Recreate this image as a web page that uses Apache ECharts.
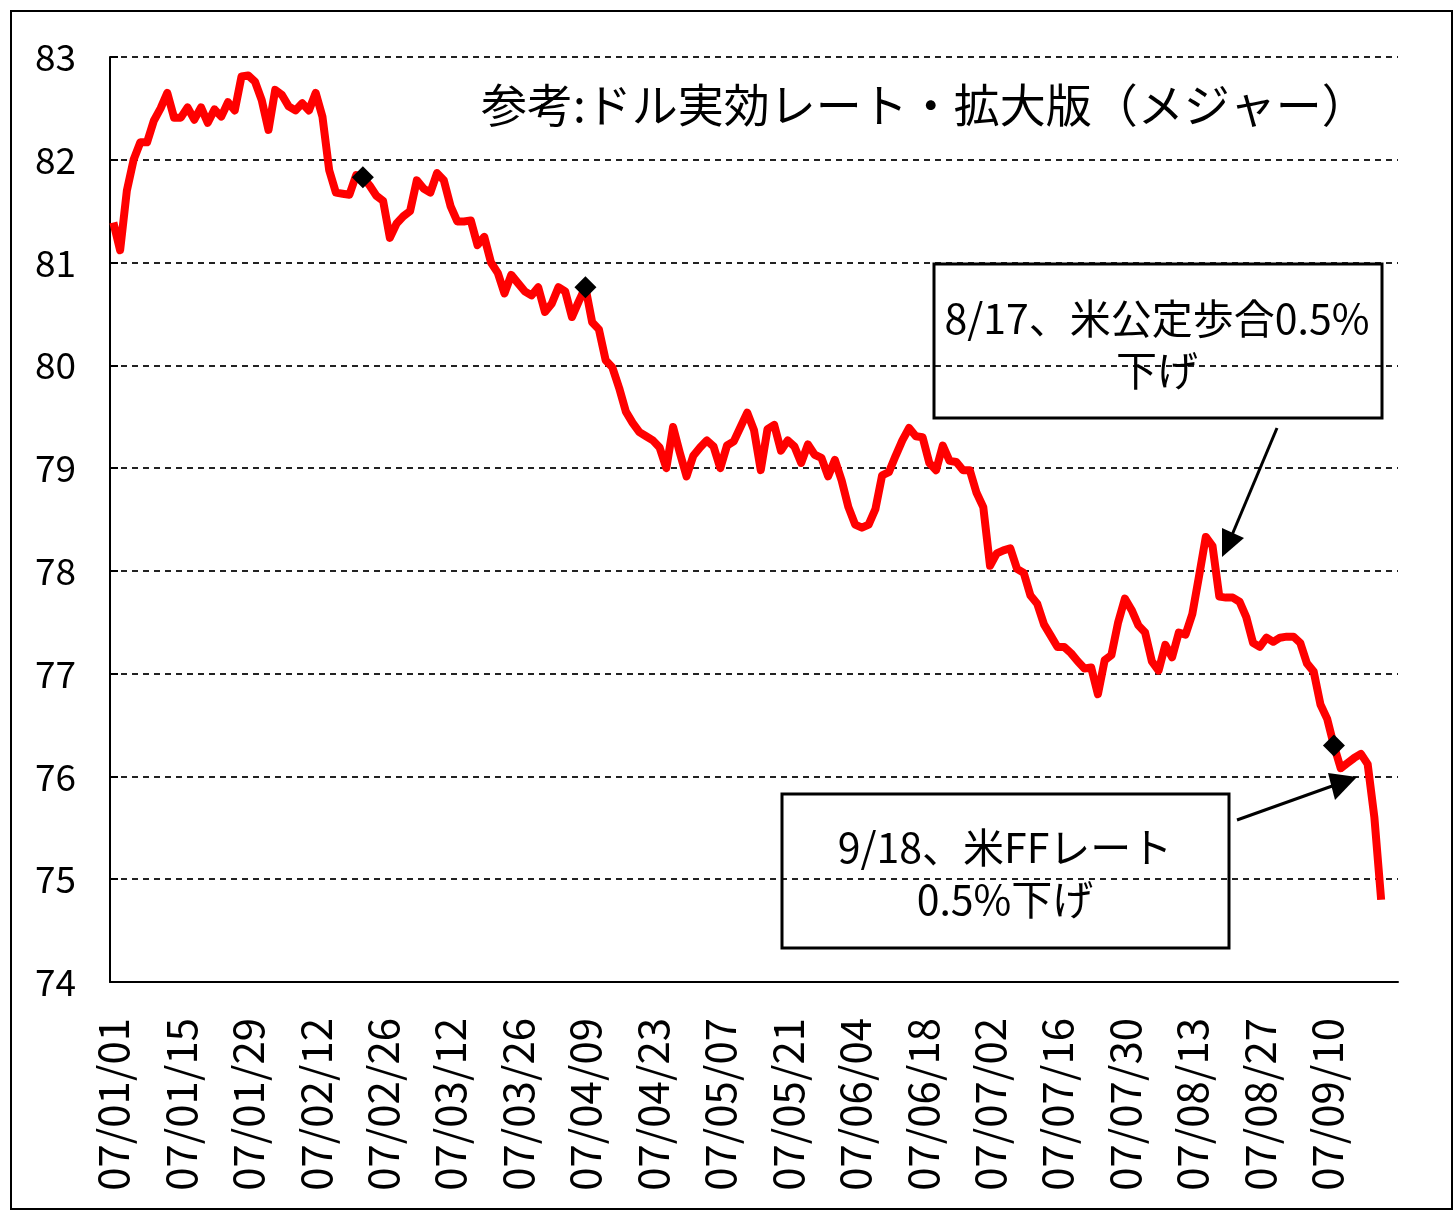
<!DOCTYPE html>
<html>
<head>
<meta charset="utf-8">
<script src="https://cdn.jsdelivr.net/npm/echarts@6/dist/echarts.min.js"></script>
<style>
  html, body { margin: 0; padding: 0; background: #fff; }
  #main { width: 1455px; height: 1211px; }
</style>
</head>
<body>
<div id="main"></div>
<script>
// ドル実効レート（拡大版・メジャー）日次
const rate = [
  81.39, 81.12, 81.70, 82.00, 82.17, 82.17, 82.38, 82.50, 82.65, 82.41,
  82.41, 82.51, 82.39, 82.51, 82.36, 82.49, 82.42, 82.56, 82.48, 82.81,
  82.82, 82.76, 82.58, 82.29, 82.68, 82.63, 82.52, 82.48, 82.55, 82.48,
  82.65, 82.42, 81.90, 81.68, 81.67, 81.66, 81.85, 81.83, 81.75, 81.65,
  81.60, 81.24, 81.38, 81.45, 81.50, 81.80, 81.72, 81.68, 81.87, 81.80,
  81.55, 81.40, 81.40, 81.41, 81.17, 81.25, 81.00, 80.90, 80.70, 80.88,
  80.80, 80.72, 80.68, 80.76, 80.52, 80.60, 80.76, 80.72, 80.47, 80.62,
  80.76, 80.42, 80.35, 80.05, 79.98, 79.78, 79.55, 79.44, 79.35, 79.31,
  79.27, 79.20, 79.00, 79.40, 79.15, 78.92, 79.12, 79.20, 79.27, 79.21,
  79.00, 79.22, 79.26, 79.40, 79.54, 79.37, 78.98, 79.38, 79.42, 79.17,
  79.27, 79.21, 79.05, 79.23, 79.13, 79.10, 78.92, 79.08, 78.88, 78.62,
  78.45, 78.42, 78.45, 78.60, 78.93, 78.96, 79.12, 79.27, 79.39, 79.31,
  79.30, 79.05, 78.98, 79.22, 79.07, 79.06, 78.98, 78.98, 78.76, 78.62,
  78.05, 78.17, 78.20, 78.22, 78.02, 77.98, 77.76, 77.68, 77.48, 77.37,
  77.26, 77.26, 77.20, 77.12, 77.05, 77.06, 76.80, 77.13, 77.18, 77.50,
  77.73, 77.62, 77.47, 77.40, 77.12, 77.03, 77.28, 77.16, 77.40, 77.38,
  77.58, 77.95, 78.33, 78.24, 77.75, 77.74, 77.74, 77.70, 77.55, 77.30,
  77.26, 77.35, 77.31, 77.35, 77.36, 77.36, 77.30, 77.10, 77.02, 76.70,
  76.56, 76.30, 76.08, 76.13, 76.18, 76.22, 76.12, 75.60, 74.80
];

// ◆印をつけた日（カテゴリ番号）
const markerDays = [37, 70, 181];

// 軸の目盛り
const yMin = 74;
const yMax = 83;
const yStep = 1;

// 営業日（平日）の日付 07/01/01 から 191 日分
const dayCount = 191;
const days = [];
(function () {
  const d = new Date(2007, 0, 1);
  const p = n => (n < 10 ? '0' : '') + n;
  while (days.length < dayCount) {
    const w = d.getDay();
    if (w !== 0 && w !== 6) {
      days.push(p(d.getFullYear() % 100) + '/' + p(d.getMonth() + 1) + '/' + p(d.getDate()));
    }
    d.setDate(d.getDate() + 1);
  }
})();

const FONT = '"Noto Sans CJK JP", "Noto Sans", sans-serif';

const chart = echarts.init(document.getElementById('main'), null, { renderer: 'canvas' });

const option = {
  backgroundColor: '#ffffff',
  animation: false,
  title: {
    text: '参考:ドル実効レート・拡大版（メジャー）',
    left: 476,
    top: 77,
    textStyle: {
      fontFamily: FONT,
      fontSize: 46,
      fontWeight: 'normal',
      color: '#000'
    }
  },
  grid: {
    left: 110,
    right: 57,
    top: 57,
    bottom: 229,
    containLabel: false
  },
  xAxis: {
    type: 'category',
    data: days,
    boundaryGap: true,
    axisLine: { show: true, lineStyle: { color: '#000', width: 2 } },
    axisTick: { show: false },
    axisLabel: {
      rotate: 90,
      margin: 36,
      interval: (i) => i % 10 === 0 && i < 190,
      fontFamily: FONT,
      fontSize: 42,
      color: '#000'
    },
    splitLine: { show: false }
  },
  yAxis: {
    type: 'value',
    min: yMin,
    max: yMax,
    interval: yStep,
    axisLine: { show: true, lineStyle: { color: '#000', width: 2 } },
    axisTick: { show: true, inside: true, length: 8, lineStyle: { color: '#000', width: 2 } },
    axisLabel: {
      margin: 34,
      fontFamily: FONT,
      fontSize: 37,
      color: '#000'
    },
    splitLine: {
      show: true,
      lineStyle: { color: '#222', width: 2, type: [6, 5] }
    }
  },
  series: [
    {
      name: 'ドル実効レート',
      type: 'line',
      data: rate,
      showSymbol: false,
      symbol: 'none',
      lineStyle: { color: '#ff0000', width: 8, join: 'round' },
      z: 3
    },
    {
      name: 'marker',
      type: 'scatter',
      data: markerDays.map(i => [i, rate[i]]),
      symbol: 'diamond',
      symbolSize: 22,
      itemStyle: { color: '#000', opacity: 1 },
      z: 4
    }
  ],
  graphic: [
    // 外枠
    {
      type: 'rect',
      shape: { x: 11, y: 11, width: 1441, height: 1198 },
      style: { fill: null, stroke: '#000', lineWidth: 2 },
      silent: true
    },
    // 注記 8/17
    {
      type: 'rect',
      shape: { x: 934, y: 264, width: 448, height: 154 },
      style: { fill: null, stroke: '#000', lineWidth: 3 },
      z: 10
    },
    {
      type: 'text',
      x: 1157, y: 344,
      style: {
        text: '8/17、米公定歩合0.5%\n下げ',
        fontFamily: FONT, fontSize: 41, lineHeight: 52,
        fill: '#000', align: 'center', verticalAlign: 'middle'
      },
      z: 10
    },
    {
      type: 'line',
      shape: { x1: 1277, y1: 428, x2: 1232, y2: 535 },
      style: { stroke: '#000', lineWidth: 3 },
      z: 10
    },
    {
      type: 'polygon',
      shape: { points: [[1222, 557], [1222, 528], [1244, 538]] },
      style: { fill: '#000' },
      z: 10
    },
    // 注記 9/18
    {
      type: 'rect',
      shape: { x: 782, y: 794, width: 447, height: 154 },
      style: { fill: null, stroke: '#000', lineWidth: 3 },
      z: 10
    },
    {
      type: 'text',
      x: 1005, y: 873,
      style: {
        text: '9/18、米FFレート\n0.5%下げ',
        fontFamily: FONT, fontSize: 41, lineHeight: 52,
        fill: '#000', align: 'center', verticalAlign: 'middle'
      },
      z: 10
    },
    {
      type: 'line',
      shape: { x1: 1237, y1: 820, x2: 1335, y2: 785 },
      style: { stroke: '#000', lineWidth: 3 },
      z: 10
    },
    {
      type: 'polygon',
      shape: { points: [[1357, 777], [1335, 800], [1328, 773]] },
      style: { fill: '#000' },
      z: 10
    }
  ]
};

chart.setOption(option);
</script>
</body>
</html>
